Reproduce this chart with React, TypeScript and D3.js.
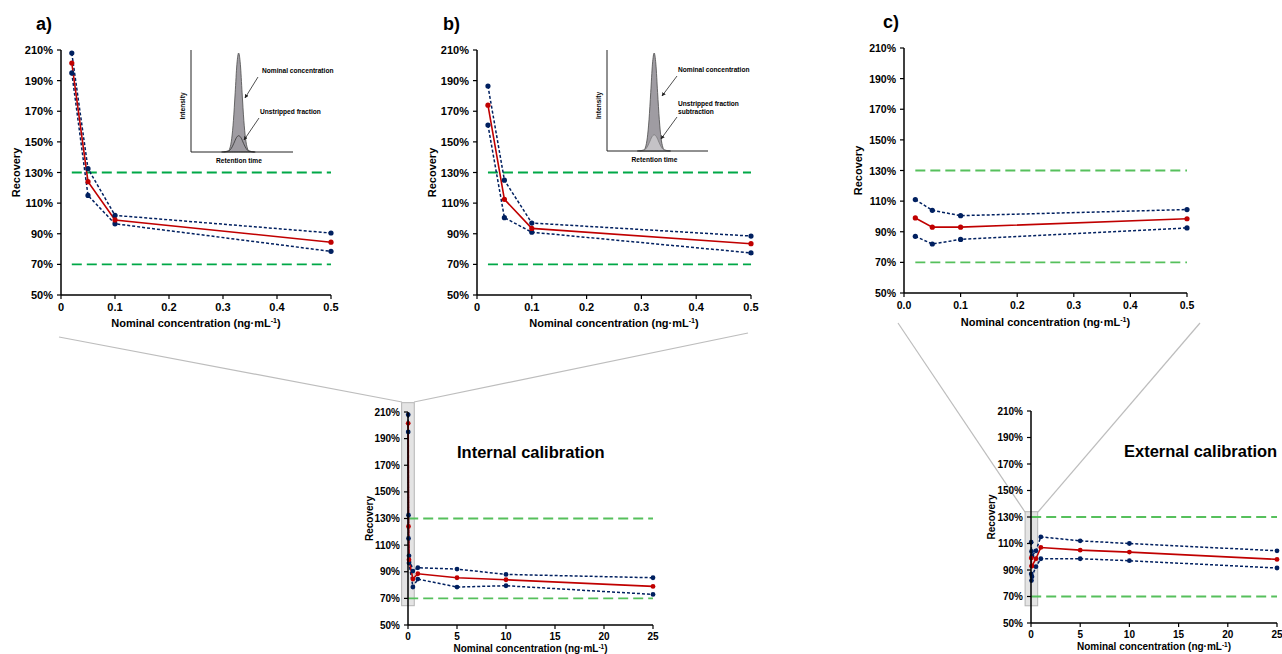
import React from "react";
import * as d3 from "d3";

// nominal concentrations (ng/mL)
const CONC_LOW = [0.02, 0.05, 0.1, 0.5];
const CONC_ALL = [0.02, 0.05, 0.1, 0.5, 1, 5, 10, 25];

// internal calibration recovery (%)
const INT_UPPER = [208, 132.5, 102, 90.5, 93, 92, 88, 85.5];
const INT_MEAN = [201.5, 124, 99, 84.5, 88.5, 85.5, 84, 79];
const INT_LOWER = [195, 115, 96.5, 78.5, 84.5, 78.5, 79.5, 73];

// internal calibration with unstripped fraction subtraction (%)
const SUB_UPPER = [186.5, 125, 97, 88.5];
const SUB_MEAN = [174, 112.5, 93.5, 83.5];
const SUB_LOWER = [161, 100.5, 91, 77.5];

// external calibration recovery (%)
const EXT_UPPER = [111, 104, 100.5, 104.5, 115, 112, 110, 104.5];
const EXT_MEAN = [99, 93, 93, 98.5, 107, 105, 103.5, 98];
const EXT_LOWER = [87, 82, 85, 92.5, 98.5, 98.5, 97, 91.5];

const LIMITS = [70, 130];
const Y_TICKS = [50, 70, 90, 110, 130, 150, 170, 190, 210];
const X_TICKS_LOW = [0, 0.1, 0.2, 0.3, 0.4, 0.5];
const X_TICKS_ALL = [0, 5, 10, 15, 20, 25];

// schematic chromatogram (relative retention time / intensity)
const PEAK_T = [30, 36.5, 38.2, 39.9, 41.6, 43.3, 45, 46.7, 48.4, 50.1, 51.8, 53.5, 55.2, 56.9, 63];
const PEAK_I = [0, 1, 4, 13, 31, 58, 86, 97, 86, 58, 31, 13, 4, 1, 0];
const SMALL_T = [32, 37, 39.5, 42, 44.5, 46.7, 49, 51.5, 54, 56.5, 62];
const SMALL_I = [0, 1, 3.5, 8.5, 14, 16, 14, 8.5, 3.5, 1, 0];

const FONT = "'Liberation Sans', Arial, sans-serif";
const NAVY = "#002060";
const RED = "#c00000";

const zip = (xs, ys) => xs.map((v, i) => [v, ys[i]]);

function XTitle({ x, y, size }) {
  return (
    <text x={x} y={y} textAnchor="middle" fontSize={size} fontWeight="bold" fontFamily={FONT}>
      Nominal concentration (ng·mL
      <tspan dy={-size * 0.35} fontSize={size * 0.65}>-1</tspan>
      <tspan dy={size * 0.35}>)</tspan>
    </text>
  );
}

function Panel(props) {
  const { left, right, top, bottom, xDomain, xTicks, fmt, conc, upper, mean, lower, fs, green, r, zoomBox } = props;
  const x = d3.scaleLinear().domain(xDomain).range([left, right]);
  const y = d3.scaleLinear().domain([50, 210]).range([bottom, top]);
  const line = d3.line().x((d) => x(d[0])).y((d) => y(d[1]));
  const blue = [upper, lower];
  return (
    <g fontFamily={FONT}>
      {zoomBox && (
        <rect
          x={x(zoomBox.x0)}
          y={y(zoomBox.y1)}
          width={x(zoomBox.x1) - x(zoomBox.x0)}
          height={y(zoomBox.y0) - y(zoomBox.y1)}
          fill="#e4e4e4"
          stroke="#b4b4b4"
          strokeWidth={1}
        />
      )}
      {LIMITS.map((v) => (
        <line key={v} x1={x(conc[0])} x2={x(conc[conc.length - 1])} y1={y(v)} y2={y(v)}
          stroke={green} strokeWidth={1.8} strokeDasharray="10,5" />
      ))}
      {blue.map((s, i) => (
        <path key={i} d={line(zip(conc, s))} fill="none" stroke={NAVY} strokeWidth={1.5} strokeDasharray="3,2" />
      ))}
      <path d={line(zip(conc, mean))} fill="none" stroke={RED} strokeWidth={1.6} />
      {blue.map((s, i) => (
        <g key={i}>
          {s.map((v, j) => <circle key={j} cx={x(conc[j])} cy={y(v)} r={r} fill={NAVY} />)}
        </g>
      ))}
      {mean.map((v, j) => <circle key={j} cx={x(conc[j])} cy={y(v)} r={r} fill={RED} />)}
      {/* axes */}
      <line x1={left} x2={left} y1={top} y2={bottom} stroke="#000" strokeWidth={1.5} />
      <line x1={left} x2={right} y1={bottom} y2={bottom} stroke="#000" strokeWidth={1.5} />
      {Y_TICKS.map((v) => (
        <g key={v}>
          <line x1={left - 4} x2={left} y1={y(v)} y2={y(v)} stroke="#000" strokeWidth={1.2} />
          <text x={left - 8} y={y(v)} textAnchor="end" dominantBaseline="central" fontSize={fs} fontWeight="bold">
            {v + "%"}
          </text>
        </g>
      ))}
      {xTicks.map((v) => (
        <g key={v}>
          <line x1={x(v)} x2={x(v)} y1={bottom} y2={bottom + 4} stroke="#000" strokeWidth={1.2} />
          <text x={x(v)} y={bottom + props.tickDy} textAnchor="middle" fontSize={fs} fontWeight="bold">
            {fmt(v)}
          </text>
        </g>
      ))}
      <XTitle x={(left + right) / 2} y={bottom + props.titleDy} size={props.titleFs} />
      <text
        transform={`translate(${left - props.yTitleDx},${(top + bottom) / 2}) rotate(-90)`}
        textAnchor="middle"
        dominantBaseline="central"
        fontSize={props.titleFs}
        fontWeight="bold"
      >
        Recovery
      </text>
    </g>
  );
}

function Inset({ left, right, top, bottom, labels, arrows, subtract }) {
  const x = d3.scaleLinear().domain([0, 100]).range([left, right]);
  const y = d3.scaleLinear().domain([0, 100]).range([bottom, top]);
  const area = d3.area().x((d) => x(d[0])).y0(bottom).y1((d) => y(d[1])).curve(d3.curveMonotoneX);
  const line = d3.line().x((d) => x(d[0])).y((d) => y(d[1])).curve(d3.curveMonotoneX);
  return (
    <g fontFamily={FONT} fontWeight="bold" fontSize={6.6}>
      <path d={area(zip(PEAK_T, PEAK_I))} fill="#9f9ca2" stroke="#4a4a4a" strokeWidth={0.8} />
      {subtract ? (
        <path d={area(zip(SMALL_T, SMALL_I))} fill="#c4c2c6" stroke="#6a6a6a" strokeWidth={0.6} />
      ) : (
        <path d={line(zip(SMALL_T, SMALL_I))} fill="none" stroke="#333" strokeWidth={0.8} />
      )}
      <line x1={left} x2={left} y1={top} y2={bottom} stroke="#222" strokeWidth={1} />
      <line x1={left} x2={right} y1={bottom} y2={bottom} stroke="#222" strokeWidth={1} />
      <text transform={`translate(${left - 9},${(top + bottom) / 2 + 5}) rotate(-90)`} textAnchor="middle" dominantBaseline="central">
        Intensity
      </text>
      <text x={(left + right) / 2 - 3} y={bottom + 11} textAnchor="middle">Retention time</text>
      {labels.map((l, i) => (
        <text key={i} x={l.x} y={l.y}>{l.t}</text>
      ))}
      {arrows.map((a, i) => (
        <line key={i} x1={a[0]} y1={a[1]} x2={a[2]} y2={a[3]} stroke="#222" strokeWidth={0.8} markerEnd="url(#arrow)" />
      ))}
    </g>
  );
}

const fmtLow = (v) => (v === 0 ? "0" : d3.format(".1f")(v));
const fmtC = (v) => d3.format(".1f")(v);
const fmtAll = (v) => String(v);

export default function App() {
  return (
    <svg width={1282} height={654} style={{ position: "absolute", left: 0, top: 0, background: "#fff" }}>
      <defs>
        <marker id="arrow" viewBox="0 0 10 10" refX="9" refY="5" markerWidth="5" markerHeight="5" orient="auto">
          <path d="M0,0 L10,5 L0,10 z" fill="#222" />
        </marker>
      </defs>
      <rect width={1282} height={654} fill="#fff" />
      {/* zoom connectors */}
      <g stroke="#bdbdbd" strokeWidth={1.2}>
        <line x1={59} y1={337} x2={402} y2={402} />
        <line x1={748} y1={333} x2={414} y2={402} />
        <line x1={898} y1={323} x2={1025} y2={512} />
        <line x1={1200} y1={323} x2={1038} y2={512} />
      </g>

      <g fontFamily={FONT} fontWeight="bold" fontSize={18}>
        <text x={36} y={30}>a)</text>
        <text x={443} y={30}>b)</text>
        <text x={883} y={28}>c)</text>
      </g>

      <Panel left={61} right={331} top={50} bottom={295} xDomain={[0, 0.5]} xTicks={X_TICKS_LOW} fmt={fmtLow}
        conc={CONC_LOW} upper={INT_UPPER.slice(0, 4)} mean={INT_MEAN.slice(0, 4)} lower={INT_LOWER.slice(0, 4)}
        fs={11} titleFs={11} tickDy={16} titleDy={32} yTitleDx={45} green="#00a847" r={2.6} />
      <Panel left={477} right={751} top={50} bottom={295} xDomain={[0, 0.5]} xTicks={X_TICKS_LOW} fmt={fmtLow}
        conc={CONC_LOW} upper={SUB_UPPER} mean={SUB_MEAN} lower={SUB_LOWER}
        fs={11} titleFs={11} tickDy={16} titleDy={32} yTitleDx={45} green="#00a847" r={2.6} />
      <Panel left={904} right={1187} top={48} bottom={293} xDomain={[0, 0.5]} xTicks={X_TICKS_LOW} fmt={fmtC}
        conc={CONC_LOW} upper={EXT_UPPER.slice(0, 4)} mean={EXT_MEAN.slice(0, 4)} lower={EXT_LOWER.slice(0, 4)}
        fs={10.5} titleFs={11} tickDy={16} titleDy={33} yTitleDx={46} green="#56c05c" r={2.6} />

      <Panel left={408} right={653} top={412} bottom={625} xDomain={[0, 25]} xTicks={X_TICKS_ALL} fmt={fmtAll}
        conc={CONC_ALL} upper={INT_UPPER} mean={INT_MEAN} lower={INT_LOWER}
        fs={10} titleFs={10} tickDy={14.5} titleDy={27} yTitleDx={39} green="#56c05c" r={2.4}
        zoomBox={{ x0: -0.65, x1: 0.64, y0: 64.5, y1: 217 }} />
      <Panel left={1031} right={1277} top={411} bottom={623} xDomain={[0, 25]} xTicks={X_TICKS_ALL} fmt={fmtAll}
        conc={CONC_ALL} upper={EXT_UPPER} mean={EXT_MEAN} lower={EXT_LOWER}
        fs={10} titleFs={10} tickDy={14.5} titleDy={27} yTitleDx={40} green="#56c05c" r={2.4}
        zoomBox={{ x0: -0.6, x1: 0.68, y0: 63, y1: 134 }} />

      <g fontFamily={FONT} fontWeight="bold" fontSize={16.5}>
        <text x={457} y={458}>Internal calibration</text>
        <text x={1124} y={457}>External calibration</text>
      </g>

      <Inset left={191} right={293} top={50} bottom={152}
        labels={[{ x: 262, y: 73, t: "Nominal concentration" }, { x: 260, y: 114, t: "Unstripped fraction" }]}
        arrows={[[258, 77, 245, 98], [259, 118, 244, 140]]} />
      <Inset left={607} right={708} top={50} bottom={151} subtract
        labels={[{ x: 678, y: 72, t: "Nominal concentration" }, { x: 678, y: 106, t: "Unstripped fraction" }, { x: 678, y: 114, t: "subtraction" }]}
        arrows={[[677, 76, 662, 96], [677, 117, 661, 139]]} />
    </svg>
  );
}
